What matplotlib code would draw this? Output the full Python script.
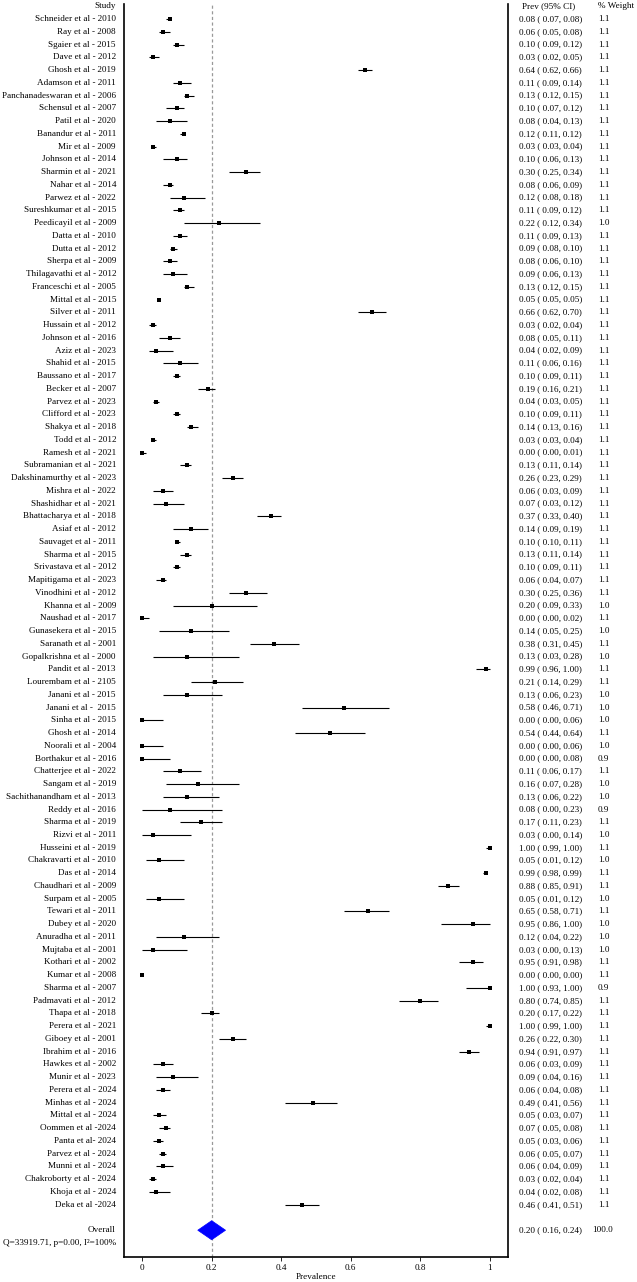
import numpy as np
import matplotlib.pyplot as plt
from matplotlib.patches import Polygon
from matplotlib.transforms import blended_transform_factory

plt.rcParams['font.family'] = ['Liberation Serif', 'DejaVu Serif']
plt.rcParams['font.size'] = 6.6

# --- study data (prevalence, 95% CI, % weight) --- #
studies = [
    'Schneider et al - 2010', 'Ray et al - 2008', 'Sgaier et al - 2015', 'Dave et al - 2012',
    'Ghosh et al - 2019', 'Adamson et al - 2011', 'Panchanadeswaran et al - 2006',
    'Schensul et al - 2007', 'Patil et al - 2020', 'Banandur et al - 2011', 'Mir et al - 2009',
    'Johnson et al - 2014', 'Sharmin et al - 2021', 'Nahar et al - 2014', 'Parwez et al - 2022',
    'Sureshkumar et al - 2015', 'Peedicayil et al - 2009', 'Datta et al - 2010',
    'Dutta et al - 2012', 'Sherpa et al - 2009', 'Thilagavathi et al - 2012',
    'Franceschi et al - 2005', 'Mittal et al - 2015', 'Silver et al - 2011',
    'Hussain et al - 2012', 'Johnson et al - 2016', 'Aziz et al - 2023', 'Shahid et al - 2015',
    'Baussano et al - 2017', 'Becker et al - 2007', 'Parvez et al - 2023',
    'Clifford et al - 2023', 'Shakya et al - 2018', 'Todd et al - 2012', 'Ramesh et al - 2021',
    'Subramanian et al - 2021', 'Dakshinamurthy et al - 2023', 'Mishra et al - 2022',
    'Shashidhar et al - 2021', 'Bhattacharya et al - 2018', 'Asiaf et al - 2012',
    'Sauvaget et al - 2011', 'Sharma et al - 2015', 'Srivastava et al - 2012',
    'Mapitigama et al - 2023', 'Vinodhini et al - 2012', 'Khanna et al - 2009',
    'Naushad et al - 2017', 'Gunasekera et al - 2015', 'Saranath et al - 2001',
    'Gopalkrishna et al - 2000', 'Pandit et al - 2013', 'Lourembam et al - 2105',
    'Janani et al - 2015', 'Janani et al -  2015', 'Sinha et al - 2015', 'Ghosh et al - 2014',
    'Noorali et al - 2004', 'Borthakur et al - 2016', 'Chatterjee et al - 2022',
    'Sangam et al - 2019', 'Sachithanandham et al - 2013', 'Reddy et al - 2016',
    'Sharma et al - 2019', 'Rizvi et al - 2011', 'Husseini et al - 2019',
    'Chakravarti et al - 2010', 'Das et al - 2014', 'Chaudhari et al - 2009',
    'Surpam et al - 2005', 'Tewari et al - 2011', 'Dubey et al - 2020', 'Anuradha et al - 2011',
    'Mujtaba et al - 2001', 'Kothari et al - 2002', 'Kumar et al - 2008', 'Sharma et al - 2007',
    'Padmavati et al - 2012', 'Thapa et al - 2018', 'Perera et al - 2021', 'Giboey et al - 2001',
    'Ibrahim et al - 2016', 'Hawkes et al - 2002', 'Munir et al - 2023', 'Perera et al - 2024',
    'Minhas et al - 2024', 'Mittal et al - 2024', 'Oommen et al -2024', 'Panta et al- 2024',
    'Parvez et al - 2024', 'Munni et al - 2024', 'Chakroborty et al - 2024',
    'Khoja et al - 2024', 'Deka et al -2024',
]

prev = [0.08, 0.06, 0.10, 0.03, 0.64, 0.11, 0.13, 0.10, 0.08, 0.12, 0.03, 0.10, 0.30, 0.08,
        0.12, 0.11, 0.22, 0.11, 0.09, 0.08, 0.09, 0.13, 0.05, 0.66, 0.03, 0.08, 0.04, 0.11,
        0.10, 0.19, 0.04, 0.10, 0.14, 0.03, 0.00, 0.13, 0.26, 0.06, 0.07, 0.37, 0.14, 0.10,
        0.13, 0.10, 0.06, 0.30, 0.20, 0.00, 0.14, 0.38, 0.13, 0.99, 0.21, 0.13, 0.58, 0.00,
        0.54, 0.00, 0.00, 0.11, 0.16, 0.13, 0.08, 0.17, 0.03, 1.00, 0.05, 0.99, 0.88, 0.05,
        0.65, 0.95, 0.12, 0.03, 0.95, 0.00, 1.00, 0.80, 0.20, 1.00, 0.26, 0.94, 0.06, 0.09,
        0.06, 0.49, 0.05, 0.07, 0.05, 0.06, 0.06, 0.03, 0.04, 0.46]

ci_low = [0.07, 0.05, 0.09, 0.02, 0.62, 0.09, 0.12, 0.07, 0.04, 0.11, 0.03, 0.06, 0.25, 0.06,
          0.08, 0.09, 0.12, 0.09, 0.08, 0.06, 0.06, 0.12, 0.05, 0.62, 0.02, 0.05, 0.02, 0.06,
          0.09, 0.16, 0.03, 0.09, 0.13, 0.03, 0.00, 0.11, 0.23, 0.03, 0.03, 0.33, 0.09, 0.10,
          0.11, 0.09, 0.04, 0.25, 0.09, 0.00, 0.05, 0.31, 0.03, 0.96, 0.14, 0.06, 0.46, 0.00,
          0.44, 0.00, 0.00, 0.06, 0.07, 0.06, 0.00, 0.11, 0.00, 0.99, 0.01, 0.98, 0.85, 0.01,
          0.58, 0.86, 0.04, 0.00, 0.91, 0.00, 0.93, 0.74, 0.17, 0.99, 0.22, 0.91, 0.03, 0.04,
          0.04, 0.41, 0.03, 0.05, 0.03, 0.05, 0.04, 0.02, 0.02, 0.41]

ci_high = [0.08, 0.08, 0.12, 0.05, 0.66, 0.14, 0.15, 0.12, 0.13, 0.12, 0.04, 0.13, 0.34, 0.09,
           0.18, 0.12, 0.34, 0.13, 0.10, 0.10, 0.13, 0.15, 0.05, 0.70, 0.04, 0.11, 0.09, 0.16,
           0.11, 0.21, 0.05, 0.11, 0.16, 0.04, 0.01, 0.14, 0.29, 0.09, 0.12, 0.40, 0.19, 0.11,
           0.14, 0.11, 0.07, 0.36, 0.33, 0.02, 0.25, 0.45, 0.28, 1.00, 0.29, 0.23, 0.71, 0.06,
           0.64, 0.06, 0.08, 0.17, 0.28, 0.22, 0.23, 0.23, 0.14, 1.00, 0.12, 0.99, 0.91, 0.12,
           0.71, 1.00, 0.22, 0.13, 0.98, 0.00, 1.00, 0.85, 0.22, 1.00, 0.30, 0.97, 0.09, 0.16,
           0.08, 0.56, 0.07, 0.08, 0.06, 0.07, 0.09, 0.04, 0.08, 0.51]

weight = [1.1, 1.1, 1.1, 1.1, 1.1, 1.1, 1.1, 1.1, 1.1, 1.1, 1.1, 1.1, 1.1, 1.1, 1.1, 1.1,
          1.0, 1.1, 1.1, 1.1, 1.1, 1.1, 1.1, 1.1, 1.1, 1.1, 1.1, 1.1, 1.1, 1.1, 1.1, 1.1,
          1.1, 1.1, 1.1, 1.1, 1.1, 1.1, 1.1, 1.1, 1.1, 1.1, 1.1, 1.1, 1.1, 1.1, 1.0, 1.1,
          1.0, 1.1, 1.0, 1.1, 1.1, 1.0, 1.0, 1.0, 1.1, 1.0, 0.9, 1.1, 1.0, 1.0, 0.9, 1.1,
          1.0, 1.1, 1.0, 1.1, 1.1, 1.0, 1.1, 1.0, 1.0, 1.0, 1.1, 1.1, 0.9, 1.1, 1.1, 1.1,
          1.1, 1.1, 1.1, 1.1, 1.1, 1.1, 1.1, 1.1, 1.1, 1.1, 1.1, 1.1, 1.1, 1.1]

overall_est, overall_low, overall_high = 0.20, 0.16, 0.24
overall_weight = 100.0
het_label = 'Q=33919.71, p=0.00, I\u00b2=100%'

x_ticks = [0, 0.2, 0.4, 0.6, 0.8, 1]
x_ticklabels = ['0', '0.2', '0.4', '0.6', '0.8', '1']

# --- layout --- #
W, H = 637, 1282
rows = np.arange(1, len(studies) + 1)
row_overall = len(studies) + 2
row_het = len(studies) + 3

fig = plt.figure(figsize=(W / 100, H / 100), dpi=100)
ax = fig.add_axes([124 / W, 25 / H, (508 - 124) / W, (1257 - 4) / H])

ax.hlines(rows, ci_low, ci_high, color='black', lw=0.8)
ax.plot(prev, rows, 's', color='black', ms=2.8, mew=0)

diamond = Polygon([[overall_low, row_overall], [overall_est, row_overall - 0.75],
                   [overall_high, row_overall], [overall_est, row_overall + 0.75]],
                  closed=True, facecolor='blue', edgecolor='blue', lw=0.5)
ax.add_patch(diamond)
ax.axvline(overall_est, color='#999999', ls=(0, (2.5, 2)), lw=0.9, zorder=0)

ax.set_xlim(-0.052, 1.052)
ax.set_ylim(98.1, -0.18)
ax.set_yticks([])
ax.set_xticks(x_ticks)
ax.set_xticklabels(x_ticklabels)
ax.tick_params(axis='x', length=3, width=0.6, pad=2, labelsize=6.6)
ax.set_xlabel('Prevalence', labelpad=1)
ax.spines['top'].set_visible(False)
for s in ['left', 'right', 'bottom']:
    ax.spines[s].set_linewidth(1.2)

# --- text columns --- #
tr = blended_transform_factory(fig.transFigure, ax.transData)
x_name, x_ci, x_wt = 116 / W, 519 / W, 598 / W

ax.text(x_name, 0, 'Study', transform=tr, ha='right', va='center')
ax.text(522 / W, 0, 'Prev (95% CI)', transform=tr, ha='left', va='center')
ax.text(x_wt, 0, '% Weight', transform=tr, ha='left', va='center')

for r, name, p, lo, hi, w in zip(rows, studies, prev, ci_low, ci_high, weight):
    ax.text(x_name, r, name, transform=tr, ha='right', va='center')
    ax.text(x_ci, r, f'{p:.2f} ( {lo:.2f}, {hi:.2f})', transform=tr, ha='left', va='center')
    ax.text(x_wt, r, f'{w:.1f}', transform=tr, ha='left', va='center')

ax.text(x_name, row_overall, 'Overall', transform=tr, ha='right', va='center')
ax.text(x_ci, row_overall, f'{overall_est:.2f} ( {overall_low:.2f}, {overall_high:.2f})',
        transform=tr, ha='left', va='center')
ax.text(x_wt - 6 / W, row_overall, f'{overall_weight:.1f}', transform=tr, ha='left', va='center')
ax.text(x_name, row_het, het_label, transform=tr, ha='right', va='center')

fig.savefig('out.png', dpi=100)
